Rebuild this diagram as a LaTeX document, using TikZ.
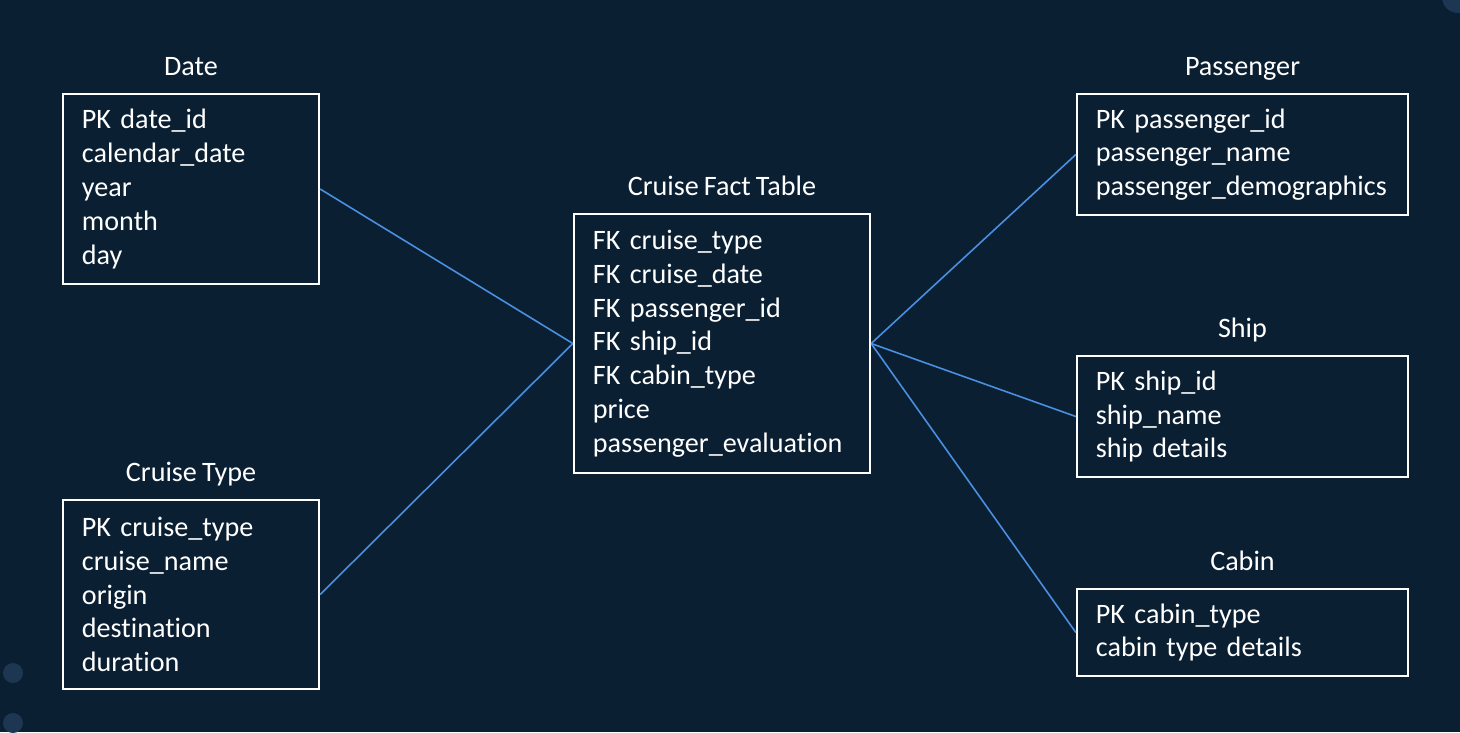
\documentclass[tikz,border=0pt]{standalone}
\usepackage{fontspec}
\setmainfont{Carlito}[Ligatures=NoCommon,WordSpace=0.8]
\usetikzlibrary{positioning}
\definecolor{navy}{HTML}{0B1F33}
\definecolor{dotblue}{HTML}{1D3651}
\definecolor{linkblue}{HTML}{4A90E2}
\begin{document}
\begin{tikzpicture}[x=0.01cm,y=-0.01cm,
  font=\fontsize{8}{9.6}\selectfont,text=white,
  table/.style={draw=white,line width=0.6pt,align=left,inner xsep=0.19cm,inner ysep=0pt},
  title/.style={inner sep=0pt,text depth=0pt,above=0.165cm of #1},
  link/.style={linkblue,line width=0.45pt}]
% background
\fill[navy] (0,0) rectangle (1460,732);
\useasboundingbox (0,0) rectangle (1460,732);
\fill[dotblue] (13,673) circle (10);
\fill[dotblue] (13,723) circle (10);
\fill[dotblue] (1458,-3) circle (16);
% tables
\node[table,text width=2.18cm,minimum height=1.90cm] (date) at (191,189)
  {PK date\_id\\calendar\_date\\year\\month\\day};
\node[table,text width=2.18cm,minimum height=1.89cm] (cruisetype) at (191,594.5)
  {PK cruise\_type\\cruise\_name\\origin\\destination\\duration};
\node[table,text width=2.58cm,minimum height=2.59cm] (fact) at (722,343.5)
  {FK cruise\_type\\FK cruise\_date\\FK passenger\_id\\FK ship\_id\\FK cabin\_type\\price\\passenger\_evaluation};
\node[table,text width=2.93cm,minimum height=1.21cm] (passenger) at (1242.5,154.5)
  {PK passenger\_id\\passenger\_name\\passenger\_demographics};
\node[table,text width=2.93cm,minimum height=1.21cm] (ship) at (1242.5,416.5)
  {PK ship\_id\\ship\_name\\ship details};
\node[table,text width=2.93cm,minimum height=0.87cm] (cabin) at (1242.5,632.5)
  {PK cabin\_type\\cabin type details};
% titles
\node[title=date] (datetitle) {Date};
\node[title=cruisetype] (cruisetypetitle) {Cruise Type};
\node[title=fact] (facttitle) {Cruise Fact Table};
\node[title=passenger] (passengertitle) {Passenger};
\node[title=ship] (shiptitle) {Ship};
\node[title=cabin] (cabintitle) {Cabin};
% links
\draw[link] (date.east) -- (fact.west);
\draw[link] (cruisetype.east) -- (fact.west);
\draw[link] (fact.east) -- (passenger.west);
\draw[link] (fact.east) -- (ship.west);
\draw[link] (fact.east) -- (cabin.west);
\end{tikzpicture}
\end{document}
